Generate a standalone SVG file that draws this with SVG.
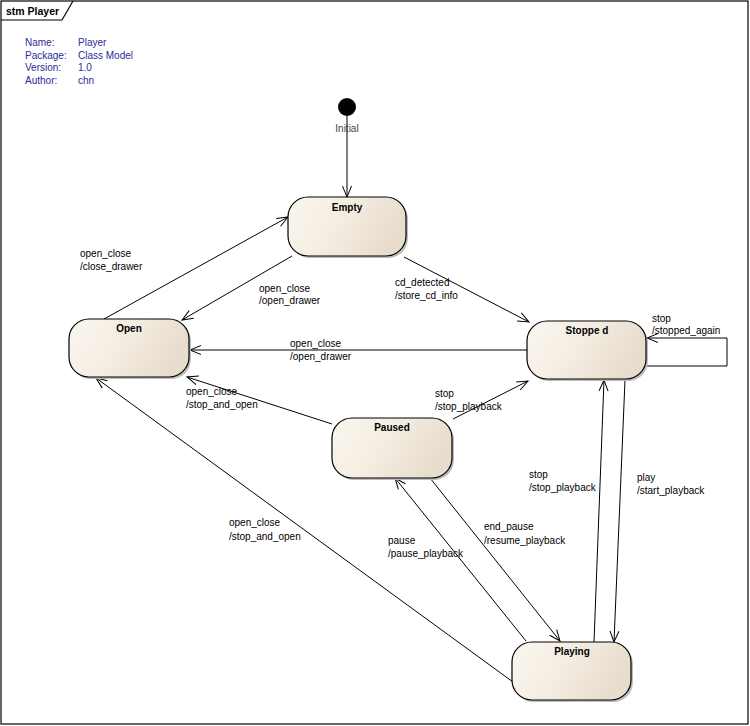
<svg xmlns="http://www.w3.org/2000/svg" width="750" height="726" viewBox="0 0 750 726">
<defs>
<linearGradient id="fill" x1="0" y1="0" x2="1" y2="0.3">
<stop offset="0" stop-color="#faf6ef"/>
<stop offset="0.5" stop-color="#f4ede2"/>
<stop offset="1" stop-color="#e8ddcc"/>
</linearGradient>
<marker id="arr" markerUnits="userSpaceOnUse" markerWidth="14" markerHeight="12" viewBox="-12 -6 14 12" refX="0" refY="0" orient="auto">
<path d="M-11,-4.5 L0,0 L-11,4.5" fill="none" stroke="#000" stroke-width="1"/>
</marker>
</defs>
<style>
.st{fill:url(#fill);stroke:#000;stroke-width:1.2}
.sh{fill:#bdbdbd}
.nm{font-family:"Liberation Sans",Arial,sans-serif;font-size:10px;font-weight:bold;text-anchor:middle;fill:#000}
.lb{font-family:"Liberation Sans",Arial,sans-serif;font-size:10px;fill:#000}
.meta{font-family:"Liberation Sans",Arial,sans-serif;font-size:10px;fill:#2b2b9a}
.cn{fill:none;stroke:#000;stroke-width:1;marker-end:url(#arr)}
</style>
<rect x="0" y="0" width="750" height="726" fill="#fff"/>
<g id="frame">
<rect x="1" y="1" width="747" height="723" fill="none" stroke="#000" stroke-width="1.2"/>
<path d="M1,20 H62 L73,1" fill="none" stroke="#000" stroke-width="1.2"/>
<text x="6" y="15" font-family="Liberation Sans, Arial, sans-serif" font-size="10.5px" font-weight="bold">stm Player</text>
</g>
<g id="meta">
<text class="meta" x="25" y="46">Name:</text><text class="meta" x="78" y="46">Player</text>
<text class="meta" x="25" y="59">Package:</text><text class="meta" x="78" y="59">Class Model</text>
<text class="meta" x="25" y="71">Version:</text><text class="meta" x="78" y="71">1.0</text>
<text class="meta" x="25" y="84">Author:</text><text class="meta" x="78" y="84">chn</text>
</g>
<g id="connectors">
<line class="cn" x1="347" y1="116" x2="347" y2="197"/>
<line class="cn" x1="104" y1="319" x2="288" y2="217"/>
<line class="cn" x1="292" y1="256" x2="182" y2="320"/>
<line class="cn" x1="404" y1="257" x2="529" y2="322"/>
<line class="cn" x1="527" y1="350" x2="190" y2="350"/>
<polyline class="cn" points="646,366 727,366 727,338 647,338"/>
<line class="cn" x1="332" y1="424" x2="187" y2="377"/>
<line class="cn" x1="453" y1="419" x2="528" y2="381"/>
<line class="cn" x1="430" y1="478" x2="560" y2="641"/>
<line class="cn" x1="526" y1="641" x2="395" y2="478"/>
<line class="cn" x1="594" y1="642" x2="604" y2="380"/>
<line class="cn" x1="625" y1="380" x2="614" y2="642"/>
<line class="cn" x1="513" y1="682" x2="96" y2="378"/>
</g>
<g id="labels">
<text class="lb" x="80" y="257">open_close</text><text class="lb" x="80" y="270">/close_drawer</text>
<text class="lb" x="259" y="292">open_close</text><text class="lb" x="259" y="304">/open_drawer</text>
<text class="lb" x="395" y="286">cd_detected</text><text class="lb" x="395" y="299">/store_cd_info</text>
<text class="lb" x="652" y="322">stop</text><text class="lb" x="652" y="334">/stopped_again</text>
<text class="lb" x="290" y="347">open_close</text><text class="lb" x="290" y="360">/open_drawer</text>
<text class="lb" x="186" y="395">open_close</text><text class="lb" x="186" y="408">/stop_and_open</text>
<text class="lb" x="435" y="397">stop</text><text class="lb" x="435" y="410">/stop_playback</text>
<text class="lb" x="529" y="478">stop</text><text class="lb" x="529" y="491">/stop_playback</text>
<text class="lb" x="637" y="481">play</text><text class="lb" x="637" y="494">/start_playback</text>
<text class="lb" x="229" y="526">open_close</text><text class="lb" x="229" y="540">/stop_and_open</text>
<text class="lb" x="484" y="530">end_pause</text><text class="lb" x="484" y="544">/resume_playback</text>
<text class="lb" x="388" y="544">pause</text><text class="lb" x="388" y="557">/pause_playback</text>
</g>
<g id="initial">
<circle cx="347" cy="107" r="9" fill="#000"/>
<text x="347" y="132" text-anchor="middle" font-family="Liberation Sans, Arial, sans-serif" font-size="10px" fill="#444">Initial</text>
</g>
<g id="empty">
<rect class="sh" x="290" y="199" width="118" height="59" rx="20"/>
<rect class="st" x="288" y="197" width="118" height="59" rx="20"/>
<text class="nm" x="347" y="211">Empty</text>
</g>
<g id="open">
<rect class="sh" x="71" y="321" width="120" height="58" rx="20"/>
<rect class="st" x="69" y="319" width="120" height="58" rx="20"/>
<text class="nm" x="129" y="332">Open</text>
</g>
<g id="stopped">
<rect class="sh" x="529" y="323" width="119" height="58" rx="20"/>
<rect class="st" x="527" y="321" width="119" height="58" rx="20"/>
<text class="nm" x="587" y="334">Stoppe d</text>
</g>
<g id="paused">
<rect class="sh" x="334" y="420" width="120" height="60" rx="20"/>
<rect class="st" x="332" y="418" width="120" height="60" rx="20"/>
<text class="nm" x="392" y="431">Paused</text>
</g>
<g id="playing">
<rect class="sh" x="514" y="644" width="119" height="58" rx="20"/>
<rect class="st" x="512" y="642" width="119" height="58" rx="20"/>
<text class="nm" x="572" y="655">Playing</text>
</g>
</svg>
